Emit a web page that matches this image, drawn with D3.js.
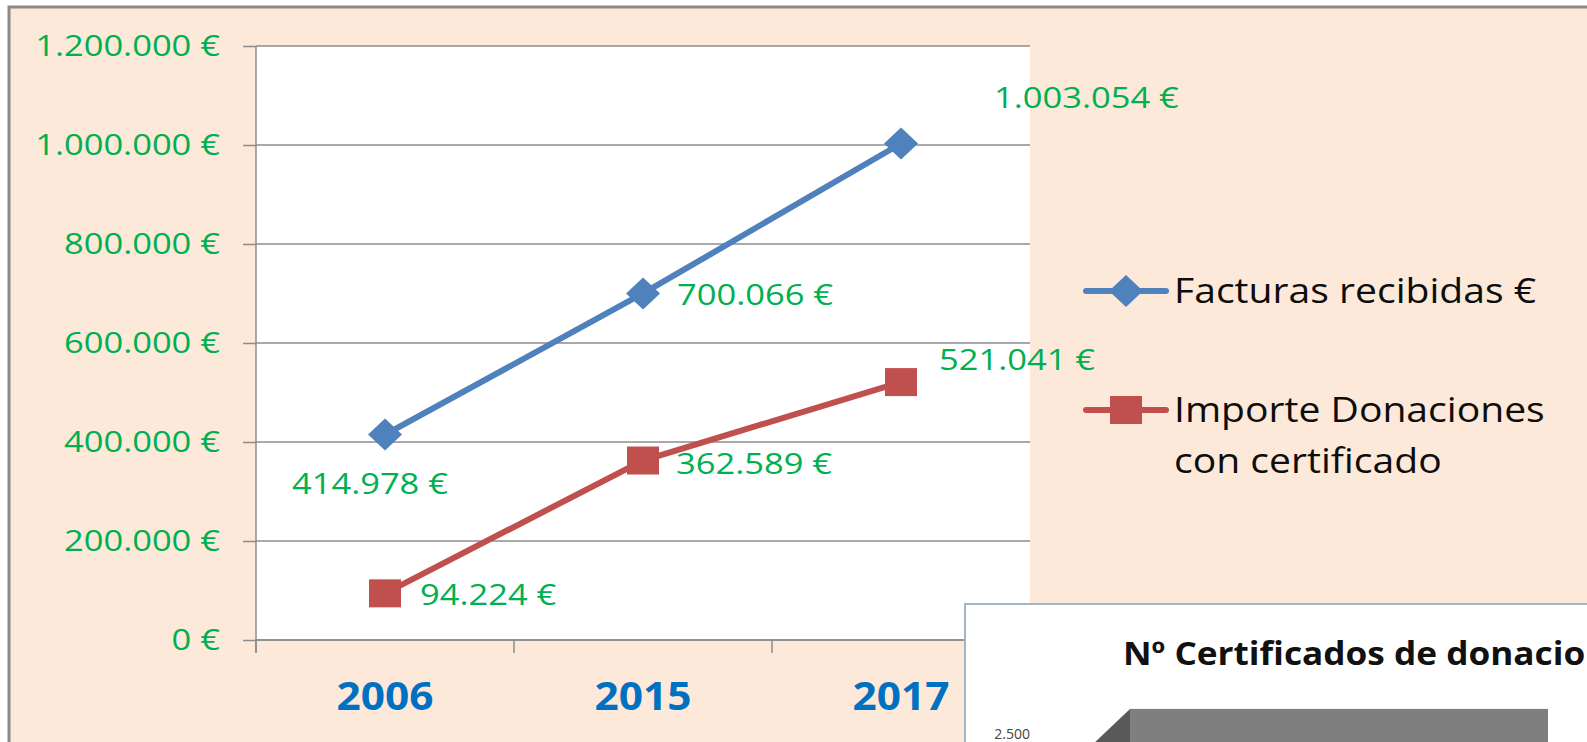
<!DOCTYPE html>
<html>
<head>
<meta charset="utf-8">
<script src="https://cdn.jsdelivr.net/npm/d3@7"></script>
<style>
	body { margin: 0; background: #ffffff; }
	svg { display: block; }
	text { font-family: "Open Sans", "Noto Sans", sans-serif; }
</style>
</head>
<body>
<div id="chart-area"></div>
<script>
var svgWidth = 1587
var svgHeight = 742

// data
var years = ["2006", "2015", "2017"]
var facturas = [414978, 700066, 1003054]
var donaciones = [94224, 362589, 521041]
var yTicks = [0, 200000, 400000, 600000, 800000, 1000000, 1200000]
var seriesNames = ["Facturas recibidas €", "Importe Donaciones con certificado"]

// second chart peeking in from the corner
var certTitle = "Nº Certificados de donacio"
var certYears = ["2017"]
var certValues = [2680]
var certTicks = [2500]

// where the data labels sit relative to their point
var labelOffsets = [
	[[-15, 49, "middle"], [34, 1, "start"], [93, -46, "start"]],
	[[35, 1, "start"], [33, 3, "start"], [38, -23, "start"]]
]

// the original text is a little wider than Open Sans
var sx = 1.15

var loc = d3.formatLocale({decimal: ",", thousands: ".", grouping: [3], currency: ["", " €"]})
var fmt = function(v){ return loc.format(",")(v) + " €" }

var svg = d3.select("#chart-area")
			.append("svg")
			.attr("width", svgWidth)
			.attr("height", svgHeight)

// peach frame
svg.append("rect")
	.attr("x", 9).attr("y", 7)
	.attr("width", svgWidth + 20).attr("height", svgHeight + 20)
	.attr("fill", "#fce9da")
	.attr("stroke", "#8a8a8a")
	.attr("stroke-width", 3)

var x = d3.scaleBand()
			.domain(years)
			.range([256, 1030])
			.padding(0)

var y = d3.scaleLinear()
			.domain([0, 1200000])
			.range([640, 46])

var cx = function(d){ return x(d) + x.bandwidth() / 2 }

// plot area
svg.append("rect")
	.attr("x", 256).attr("y", y(1200000))
	.attr("width", 1030 - 256).attr("height", y(0) - y(1200000))
	.attr("fill", "#ffffff")

// gridlines
svg.append("g").selectAll("line").data(yTicks).enter()
	.append("line")
	.attr("x1", 256).attr("x2", 1030)
	.attr("y1", function(d){ return y(d) })
	.attr("y2", function(d){ return y(d) })
	.attr("stroke", "#8c8c8c")
	.attr("stroke-width", 1.5)

// y axis
var yAxis = svg.append("g")
	.attr("transform", "translate(256,0)")
	.call(d3.axisLeft(y).tickValues(yTicks).tickSize(13).tickPadding(23).tickFormat(fmt))
yAxis.select(".domain").remove()
yAxis.selectAll(".tick line").attr("stroke", "#8c8c8c").attr("stroke-width", 1.5)
yAxis.selectAll(".tick text")
	.attr("fill", "#00b050")
	.attr("x", -36 / sx)
	.attr("transform", "scale(" + sx + ",1)")
	.style("font-size", "30px")

svg.append("line")
	.attr("x1", 256).attr("x2", 256)
	.attr("y1", y(1200000)).attr("y2", y(0) + 13)
	.attr("stroke", "#8c8c8c").attr("stroke-width", 1.5)

// x axis
svg.append("line")
	.attr("x1", 256).attr("x2", 1030)
	.attr("y1", y(0)).attr("y2", y(0))
	.attr("stroke", "#8c8c8c").attr("stroke-width", 1.5)

svg.append("g").selectAll("line").data(years.concat(["end"])).enter()
	.append("line")
	.attr("x1", function(d){ return d == "end" ? 1030 : x(d) })
	.attr("x2", function(d){ return d == "end" ? 1030 : x(d) })
	.attr("y1", y(0)).attr("y2", y(0) + 13)
	.attr("stroke", "#8c8c8c").attr("stroke-width", 1.5)

svg.append("g").selectAll("text").data(years).enter()
	.append("text")
	.attr("transform", function(d){ return "translate(" + cx(d) + ",710) scale(1.06,1)" })
	.attr("text-anchor", "middle")
	.attr("fill", "#0070c0")
	.style("font-size", "40px")
	.style("font-weight", "bold")
	.text(function(d){ return d })

// series
var series = [
	{name: seriesNames[0], values: facturas, color: "#4f81bd", shape: "diamond"},
	{name: seriesNames[1], values: donaciones, color: "#c0504d", shape: "square"}
]

var line = d3.line()
	.x(function(d, i){ return cx(years[i]) })
	.y(function(d){ return y(d) })

function drawMarker(g, shape, color, px, py){
	if (shape == "diamond") {
		g.append("path")
			.attr("d", "M" + px + "," + (py - 16) + "L" + (px + 17) + "," + py + "L" + px + "," + (py + 16) + "L" + (px - 17) + "," + py + "Z")
			.attr("fill", color)
	} else {
		g.append("rect")
			.attr("x", px - 16).attr("y", py - 14)
			.attr("width", 32).attr("height", 28)
			.attr("fill", color)
	}
}

series.forEach(function(s, si){
	svg.append("path")
		.datum(s.values)
		.attr("d", line)
		.attr("fill", "none")
		.attr("stroke", s.color)
		.attr("stroke-width", 6)

	var g = svg.append("g")
	s.values.forEach(function(v, i){
		drawMarker(g, s.shape, s.color, cx(years[i]), y(v))
	})

	svg.append("g").selectAll("text").data(s.values).enter()
		.append("text")
		.attr("transform", function(d, i){
			var o = labelOffsets[si][i]
			return "translate(" + (cx(years[i]) + o[0]) + "," + (y(d) + o[1]) + ") scale(" + sx + ",1)"
		})
		.attr("dy", "0.35em")
		.attr("text-anchor", function(d, i){ return labelOffsets[si][i][2] })
		.attr("fill", "#00b050")
		.style("font-size", "30px")
		.text(fmt)
})

// legend
var legend = svg.append("g")
var legendRows = [[seriesNames[0]], ["Importe Donaciones", "con certificado"]]
series.forEach(function(s, si){
	var ly = si == 0 ? 291 : 410
	legend.append("line")
		.attr("x1", 1086).attr("x2", 1166)
		.attr("y1", ly).attr("y2", ly)
		.attr("stroke", s.color)
		.attr("stroke-width", 6)
		.attr("stroke-linecap", "round")
	drawMarker(legend, s.shape, s.color, 1126, ly)
	legend.append("text")
		.attr("transform", "translate(1174," + ly + ") scale(" + sx + ",1)")
		.attr("fill", "#0d0d0d")
		.style("font-size", "34px")
		.selectAll("tspan").data(legendRows[si]).enter()
		.append("tspan")
		.attr("x", 0)
		.attr("dy", function(d, i){ return i == 0 ? "0.35em" : 51 })
		.text(function(d){ return d })
})

// the other chart, overlapping at the lower right
var inset = svg.append("g")
inset.append("rect")
	.attr("x", 965).attr("y", 604)
	.attr("width", 700).attr("height", 200)
	.attr("fill", "#ffffff")
	.attr("stroke", "#a7b4c8")
	.attr("stroke-width", 2)

inset.append("text")
	.attr("transform", "translate(1123,665) scale(1.1,1)")
	.attr("fill", "#111111")
	.style("font-size", "32px")
	.style("font-weight", "bold")
	.text(certTitle)

var cy = d3.scaleLinear().domain([2500, 2700]).range([744, 705])
var cxs = d3.scaleBand().domain(certYears).range([1130, 1548])

inset.selectAll("rect.bar").data(certValues).enter()
	.append("rect")
	.attr("class", "bar")
	.attr("x", function(d, i){ return cxs(certYears[i]) })
	.attr("y", function(d){ return cy(d) })
	.attr("width", cxs.bandwidth())
	.attr("height", function(d){ return svgHeight + 20 - cy(d) })
	.attr("fill", "#7f7f7f")

inset.selectAll("path.side").data(certValues).enter()
	.append("path")
	.attr("class", "side")
	.attr("d", function(d, i){
		var bx = cxs(certYears[i]), by = cy(d)
		return "M" + bx + "," + by + "L" + (bx - 40) + "," + (by + 38) + "L" + (bx - 40) + "," + (svgHeight + 20) + "L" + bx + "," + (svgHeight + 20) + "Z"
	})
	.attr("fill", "#595959")

inset.selectAll("text.tick").data(certTicks).enter()
	.append("text")
	.attr("class", "tick")
	.attr("x", 1030).attr("y", 739)
	.attr("text-anchor", "end")
	.attr("fill", "#444444")
	.style("font-size", "14px")
	.text(function(d){ return loc.format(",")(d) })
</script>
</body>
</html>
